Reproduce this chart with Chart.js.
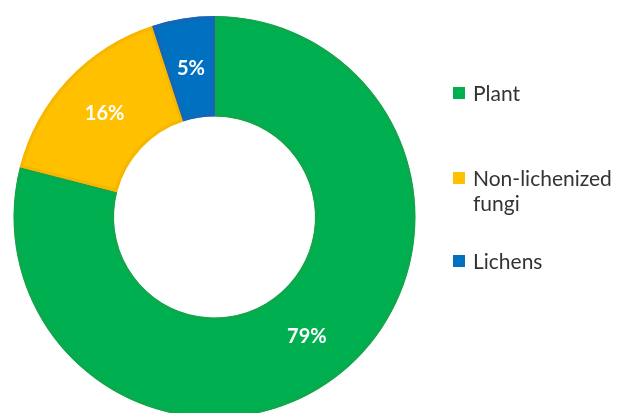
<!DOCTYPE html>
<html>
<head>
<meta charset="utf-8">
<script src="https://cdn.jsdelivr.net/npm/chart.js@4/dist/chart.umd.min.js"></script>
<style>
html,body{margin:0;padding:0;background:#fff;overflow:hidden;width:619px;height:413px;}
canvas{display:block;}
</style>
</head>
<body>
<canvas id="c" width="619" height="430"></canvas>
<script>
const categories = ["Plant", "Non-lichenized fungi", "Lichens"];
const legendLines = [["Plant"], ["Non-lichenized", "fungi"], ["Lichens"]];
const values = [79, 16, 5];
const labelsText = ["79%", "16%", "5%"];
const fillColors = ["#00B050", "#FFC000", "#0070C0"];
const borderColors = ["#0CA84B", "#F7B700", "#1467B6"];

const overlay = {
  id: 'overlay',
  afterDatasetsDraw(chart) {
    const ctx = chart.ctx;
    const meta = chart.getDatasetMeta(0);
    ctx.save();
    ctx.fillStyle = '#ffffff';
    ctx.font = 'bold 20px Lato, "Open Sans", sans-serif';
    ctx.textAlign = 'center';
    ctx.textBaseline = 'middle';
    meta.data.forEach((arc, i) => {
      const p = arc.getCenterPoint();
      ctx.fillText(labelsText[i], p.x, p.y);
    });
    // legend
    const legendY = [87, 172, 255];
    ctx.textAlign = 'left';
    ctx.textBaseline = 'alphabetic';
    ctx.font = '21px Lato, "Open Sans", sans-serif';
    legendLines.forEach((lines, i) => {
      const y = legendY[i];
      ctx.fillStyle = fillColors[i];
      ctx.fillRect(453, y, 12, 12);
      ctx.fillStyle = '#333333';
      lines.forEach((t, j) => {
        ctx.fillText(t, 473, y + 14 + j * 25);
      });
    });
    ctx.restore();
  }
};

new Chart(document.getElementById('c'), {
  type: 'doughnut',
  data: {
    labels: categories,
    datasets: [{
      data: values,
      backgroundColor: fillColors,
      borderColor: borderColors,
      borderWidth: 3,
      borderAlign: 'inner',
      hoverOffset: 0
    }]
  },
  options: {
    responsive: false,
    animation: false,
    cutout: '50%',
    layout: { padding: { left: 13, top: 16, right: 203, bottom: 12 } },
    plugins: { legend: { display: false }, tooltip: { enabled: false } },
    events: []
  },
  plugins: [overlay]
});
</script>
</body>
</html>
